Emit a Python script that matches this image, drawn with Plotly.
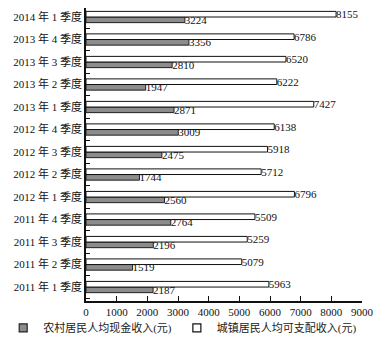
import plotly.graph_objects as go

# Quarterly per-capita income, 2011 Q1 .. 2014 Q1 (bottom to top)
quarters = [
    "2011 年 1 季度", "2011 年 2 季度", "2011 年 3 季度", "2011 年 4 季度",
    "2012 年 1 季度", "2012 年 2 季度", "2012 年 3 季度", "2012 年 4 季度",
    "2013 年 1 季度", "2013 年 2 季度", "2013 年 3 季度", "2013 年 4 季度",
    "2014 年 1 季度",
]
rural_cash = [2187, 1519, 2196, 2764, 2560, 1744, 2475, 3009, 2871, 1947, 2810, 3356, 3224]
urban_disposable = [5963, 5079, 5259, 5509, 6796, 5712, 5918, 6138, 7427, 6222, 6520, 6786, 8155]
x_ticks = [0, 1000, 2000, 3000, 4000, 5000, 6000, 7000, 8000, 9000]

rural_name = "农村居民人均现金收入(元)"
urban_name = "城镇居民人均可支配收入(元)"

font_family = "Liberation Serif, Noto Sans CJK SC, serif"
rural_fill, rural_edge = "#8c8c8c", "#222222"
urban_fill, urban_edge = "#ffffff", "#111111"

fig = go.Figure()
fig.add_trace(go.Bar(
    y=quarters, x=rural_cash, orientation="h", name=rural_name,
    marker=dict(color=rural_fill, line=dict(color=rural_edge, width=1)),
    text=[str(v) for v in rural_cash], textposition="outside",
    constraintext="none", cliponaxis=False, showlegend=False,
    textfont=dict(family=font_family, size=11, color="#111111"),
))
fig.add_trace(go.Bar(
    y=quarters, x=urban_disposable, orientation="h", name=urban_name,
    marker=dict(color=urban_fill, line=dict(color=urban_edge, width=1)),
    text=[str(v) for v in urban_disposable], textposition="outside",
    constraintext="none", cliponaxis=False, showlegend=False,
    textfont=dict(family=font_family, size=11, color="#111111"),
))

# small square legend keys
for name, fill, edge in [(rural_name, rural_fill, rural_edge), (urban_name, urban_fill, urban_edge)]:
    fig.add_trace(go.Scatter(
        x=[None], y=[None], mode="markers", name=name,
        marker=dict(symbol="square", size=8, color=fill, line=dict(color=edge, width=1.2)),
    ))

fig.update_layout(
    width=377, height=345,
    margin=dict(l=86, r=15, t=8, b=44, autoexpand=False),
    paper_bgcolor="white", plot_bgcolor="white",
    barmode="group", bargap=0.5, bargroupgap=0.0,
    font=dict(family=font_family, size=11, color="#111111"),
    showlegend=True,
    legend=dict(
        orientation="h", xref="paper", yref="paper",
        x=-0.30, xanchor="left", y=-0.092, yanchor="middle",
        bgcolor="rgba(0,0,0,0)",
        font=dict(family=font_family, size=11, color="#222222"),
        itemwidth=30, traceorder="normal", tracegroupgap=0,
    ),
    xaxis=dict(
        range=[0, 9000], tickvals=x_ticks,
        ticks="inside", ticklen=5, tickcolor="#111111",
        showline=True, linecolor="#111111", linewidth=1.5,
        showgrid=False, zeroline=False,
        tickfont=dict(family=font_family, size=11, color="#111111"),
    ),
    yaxis=dict(
        type="category", categoryorder="array", categoryarray=quarters,
        range=[-0.62, 12.4],
        ticks="inside", ticklen=4, tickcolor="#111111", tickson="boundaries",
        showline=True, linecolor="#111111", linewidth=1.5,
        showgrid=False, zeroline=False,
        tickfont=dict(family=font_family, size=11, color="#111111"),
    ),
)

fig.write_html("out.html")
